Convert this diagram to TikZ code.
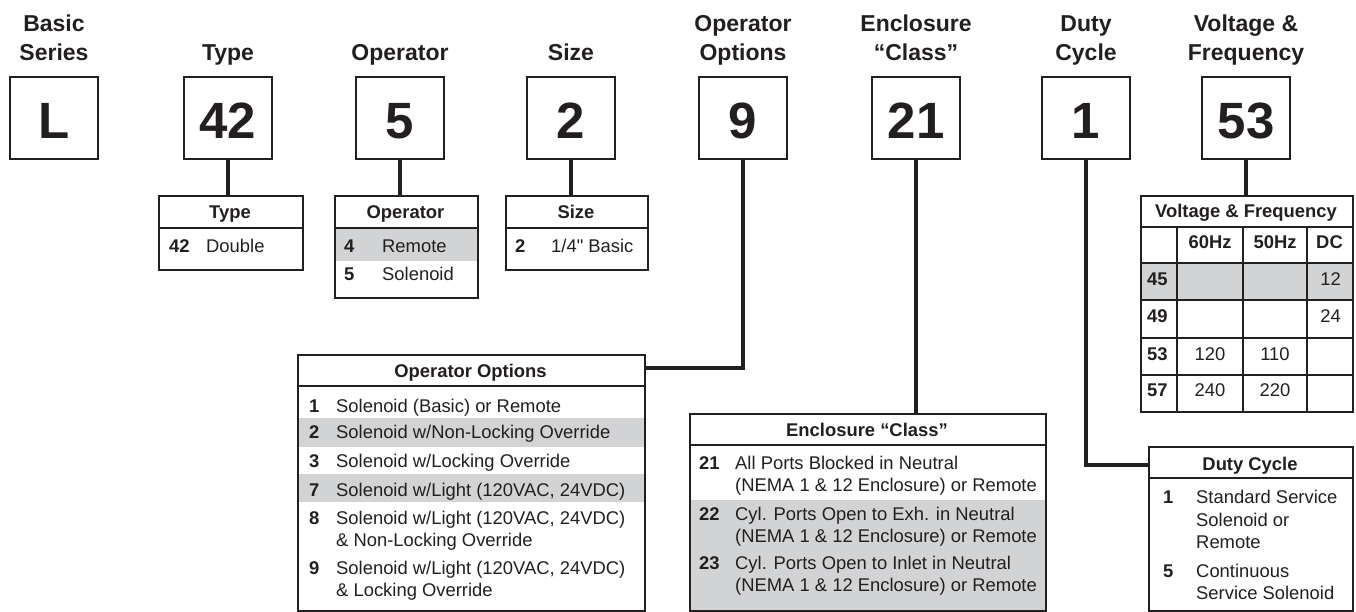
\documentclass[tikz,border=0pt]{standalone}
\usepackage{fontspec}
\setmainfont{Liberation Sans}
\newfontfamily\nolig{Liberation Sans}[Ligatures=TeXOff]
\definecolor{ink}{HTML}{231F20}
\definecolor{rowgray}{HTML}{D1D3D4}
\begin{document}
\begin{tikzpicture}[x=1pt,y=-1pt,
  codebox/.style={draw=ink, line width=2pt, minimum width=88pt, minimum height=82pt,
    inner sep=0pt, anchor=north, text=ink, text height=42pt, text depth=0pt,
    font=\fontsize{51}{51}\selectfont\bfseries},
  lbl/.style={inner sep=0pt, anchor=base, text=ink, font=\fontsize{23}{28}\selectfont\bfseries},
  tbl/.style={draw=ink, line width=2pt, inner sep=0pt, anchor=north west},
  tline/.style={draw=ink, line width=2pt},
  gline/.style={draw=ink, line width=1.8pt},
  conn/.style={draw=ink, line width=4.5pt},
  rowfill/.style={fill=rowgray},
  cell/.style={inner sep=0pt, anchor=base west, text=ink, font=\fontsize{18.4}{22}\selectfont},
  cellb/.style={cell, font=\fontsize{18.4}{22}\selectfont\bfseries},
  head/.style={cellb, anchor=base},
]
\useasboundingbox (0,0) rectangle (1356,612);
\fill[white] (0,0) rectangle (1356,612);

% ---- top labels
\node[lbl] (l1a) at (54,32) {Basic};
\node[lbl] (l1b) at (54,60.5) {Series};
\node[lbl] (l2) at (228,60.5) {Type};
\node[lbl] (l3) at (400,60.5) {Operator};
\node[lbl] (l4) at (571,60.5) {Size};
\node[lbl] (l5a) at (743,32) {Operator};
\node[lbl] (l5b) at (743,60.5) {Options};
\node[lbl] (l6a) at (916,32) {Enclosure};
\node[lbl] (l6b) at (916,60.5) {“Class”};
\node[lbl] (l7a) at (1086,32) {Duty};
\node[lbl] (l7b) at (1086,60.5) {Cycle};
\node[lbl] (l8a) at (1246,32) {Voltage \&};
\node[lbl] (l8b) at (1246,60.5) {Frequency};

% ---- code boxes
\node[codebox] (bL) at (54,76) {L};
\node[codebox] (b42) at (228,76) {42};
\node[codebox] (b5) at (400,76) {5};
\node[codebox] (b2) at (571,76) {2};
\node[codebox] (b9) at (743,76) {9};
\node[codebox] (b21) at (916,76) {21};
\node[codebox] (b1) at (1086,76) {1};
\node[codebox] (b53) at (1246,76) {53};

% ---- shaded rows
\path[rowfill] (334,228) rectangle (477,261);
\path[rowfill] (297,418) rectangle (644,447);
\path[rowfill] (297,474) rectangle (644,502);
\path[rowfill] (689,500) rectangle (1045,610);
\path[rowfill] (1140,263) rectangle (1352,300);

% ---- tables
\node[tbl, minimum width=144pt, minimum height=74pt] (tType) at (158,195) {};
\node[tbl, minimum width=143pt, minimum height=102pt] (tOper) at (334,195) {};
\node[tbl, minimum width=142pt, minimum height=74pt] (tSize) at (505,195) {};
\node[tbl, minimum width=347pt, minimum height=256pt] (tOpt) at (297,354) {};
\node[tbl, minimum width=356pt, minimum height=197pt] (tEnc) at (689,413) {};
\node[tbl, minimum width=204pt, minimum height=164pt] (tDuty) at (1148,446) {};
\node[tbl, minimum width=212pt, minimum height=216pt] (tVolt) at (1140,195) {};

% header rules
\draw[tline] (158,228) -- (302,228);
\draw[tline] (334,228) -- (477,228);
\draw[tline] (505,228) -- (647,228);
\draw[tline] (297,386) -- (644,386);
\draw[tline] (689,445) -- (1045,445);
\draw[tline] (1148,478) -- (1352,478);
% voltage grid
\draw[tline] (1140,227) -- (1352,227);
\foreach \yy in {263,300,338,375} \draw[gline] (1140,\yy) -- (1352,\yy);
\foreach \xx in {1177,1243,1307} \draw[gline] (\xx,227) -- (\xx,411);

% ---- Type table
\node[head] (hType) at (230,219) {Type};
\node[cellb] (n42) at (169,253) {42};
\node[cell] (x42) at (206,253) {Double};

% ---- Operator table
\node[head] (hOper) at (405.5,219) {Operator};
\node[cellb] (n4) at (344,253) {4};
\node[cell] (x4) at (382,253) {Remote};
\node[cellb] (n5) at (344,280) {5};
\node[cell] (x5) at (382,280) {Solenoid};

% ---- Size table
\node[head] (hSize) at (576,219) {Size};
\node[cellb] (n2) at (515,253) {2};
\node[cell] (x2) at (551,253) {\nolig 1/4" Basic};

% ---- Operator Options table
\node[head] (hOpt) at (470.5,377) {Operator Options};
\node[cellb] (o1) at (309,412) {1};
\node[cell] (o1t) at (336,412) {Solenoid (Basic) or Remote};
\node[cellb] (o2) at (309,438) {2};
\node[cell] (o2t) at (336,438) {Solenoid w/Non-Locking Override};
\node[cellb] (o3) at (309,467) {3};
\node[cell] (o3t) at (336,467) {Solenoid w/Locking Override};
\node[cellb] (o7) at (309,496) {7};
\node[cell] (o7t) at (336,496) {Solenoid w/Light (120VAC, 24VDC)};
\node[cellb] (o8) at (309,524) {8};
\node[cell] (o8t) at (336,524) {Solenoid w/Light (120VAC, 24VDC)};
\node[cell] (o8u) at (336,546) {\& Non-Locking Override};
\node[cellb] (o9) at (309,574) {9};
\node[cell] (o9t) at (336,574) {Solenoid w/Light (120VAC, 24VDC)};
\node[cell] (o9u) at (336,596) {\& Locking Override};

% ---- Enclosure table
\node[head] (hEnc) at (867,436) {Enclosure “Class”};
\node[cellb] (e21) at (699,469) {21};
\node[cell] (e21t) at (735,469) {All Ports Blocked in Neutral};
\node[cell] (e21u) at (735,491) {(NEMA 1 \& 12 Enclosure) or Remote};
\node[cellb] (e22) at (699,520) {22};
\node[cell] (e22t) at (735,520) {Cyl. Ports Open to Exh. in Neutral};
\node[cell] (e22u) at (735,542) {(NEMA 1 \& 12 Enclosure) or Remote};
\node[cellb] (e23) at (699,569) {23};
\node[cell] (e23t) at (735,569) {Cyl. Ports Open to Inlet in Neutral};
\node[cell] (e23u) at (735,591) {(NEMA 1 \& 12 Enclosure) or Remote};

% ---- Duty Cycle table
\node[head] (hDuty) at (1250,470) {Duty Cycle};
\node[cellb] (d1) at (1163,503) {1};
\node[cell] (d1t) at (1196,503) {Standard Service};
\node[cell] (d1u) at (1196,526) {Solenoid or};
\node[cell] (d1v) at (1196,548) {Remote};
\node[cellb] (d5) at (1163,577) {5};
\node[cell] (d5t) at (1196,577) {Continuous};
\node[cell] (d5u) at (1196,599) {Service Solenoid};

% ---- Voltage table
\node[head] (hVolt) at (1246,218) {Voltage \& Frequency};
\node[head] (c60) at (1210,249) {60Hz};
\node[head] (c50) at (1275,249) {50Hz};
\node[head] (cDC) at (1329.5,249) {DC};
\node[cellb] (v45) at (1147,285) {45};
\node[cellb] (v49) at (1147,322.5) {49};
\node[cellb] (v53) at (1147,360) {53};
\node[cellb] (v57) at (1147,396.5) {57};
\node[cell, anchor=base east] (v45d) at (1341,285) {12};
\node[cell, anchor=base east] (v49d) at (1341,322.5) {24};
\node[cell, anchor=base] (v53a) at (1210,360) {120};
\node[cell, anchor=base] (v53b) at (1275,360) {110};
\node[cell, anchor=base] (v57a) at (1210,396.5) {240};
\node[cell, anchor=base] (v57b) at (1275,396.5) {220};

% ---- connectors
\coordinate (k9) at (743,368);
\coordinate (k1) at (1086,465);
\draw[conn] (b42.south) -- (b42.south |- tType.north);
\draw[conn] (b5.south) -- (b5.south |- tOper.north);
\draw[conn] (b2.south) -- (b2.south |- tSize.north);
\draw[conn] (b9.south) -- (k9) -- (k9 -| tOpt.east);
\draw[conn] (b21.south) -- (b21.south |- tEnc.north);
\draw[conn] (b1.south) -- (k1) -- (k1 -| tDuty.west);
\draw[conn] (b53.south) -- (b53.south |- tVolt.north);
\end{tikzpicture}
\end{document}
